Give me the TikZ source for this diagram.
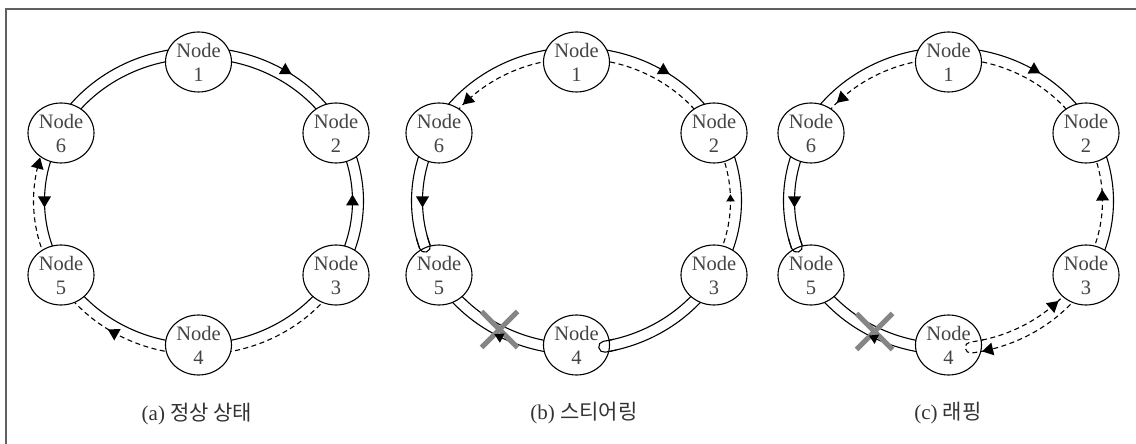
\documentclass[tikz,border=0pt]{standalone}
\usepackage{fontspec}
\setmainfont{Liberation Serif}
\newfontfamily\kr{Noto Sans CJK KR}
\usetikzlibrary{shapes.geometric}
\definecolor{txtgray}{HTML}{444444}
\definecolor{captext}{HTML}{333333}
\definecolor{xgray}{HTML}{858585}
\definecolor{framegray}{HTML}{606060}
% outer and inner ring arcs (parametric angles)
\newcommand\OA[3][ln]{\draw[#1] (0,243) ++(#2:165pt and 153.5pt) arc[start angle=#2, end angle=#3, x radius=165pt, y radius=153.5pt];}
\newcommand\IA[3][ln]{\draw[#1] (0,243) ++(#2:154pt and 142.5pt) arc[start angle=#2, end angle=#3, x radius=154pt, y radius=142.5pt];}
% arrow triangle on the ring
\newcommand\arw[5][1]{%
  \pgfmathsetmacro\ang{atan2(#3*cos(#4), -#2*sin(#4))+#5}%
  \fill[shift={({#2*cos(#4)},{243+#3*sin(#4)})}, rotate=\ang, scale=#1] (6.5,0) -- (-4.5,6.5) -- (-4.5,-6.5) -- cycle;}
\newcommand\arO[3][1]{\arw[#1]{165}{153.5}{#2}{#3}}
\newcommand\arI[3][1]{\arw[#1]{154}{142.5}{#2}{#3}}
% U-turn cap joining outer and inner line
\newcommand\ucap[4][ln]{\draw[#1] (0,243) ++(#2:165pt and 153.5pt) arc[start angle=#2, end angle=#3, x radius=165pt, y radius=153.5pt] arc[start angle=#3, delta angle=#4, radius=5.5pt] arc[start angle=#3, end angle=#2, x radius=154pt, y radius=142.5pt];}
\newcommand\xmk[2]{\draw[xmark] (#1-18,#2-18) -- (#1+18,#2+18); \draw[xmark] (#1-18,#2+18) -- (#1+18,#2-18);}
\begin{document}
\begin{tikzpicture}[x=1pt,y=1pt,
  nd/.style={ellipse, draw=black, line width=1.1pt, fill=white, minimum width=66pt, minimum height=60pt, inner sep=0pt, align=center, text=txtgray, font=\fontsize{20.5}{24}\selectfont},
  ln/.style={line width=1.1pt, line cap=butt},
  dsh/.style={line width=1.1pt, dash pattern=on 5pt off 3.5pt},
  xmark/.style={line width=5pt, draw=xgray},
  capt/.style={font=\fontsize{21}{24}\selectfont, text=captext}]
\useasboundingbox (0,0) rectangle (1136,444);
\fill[white] (0,0) rectangle (1136,444);
\draw[line width=1.5pt, framegray] (6,0) -- (6,435) -- (1136,435);

% ---------- (a) ----------
\begin{scope}[xshift=198.5pt]
\IA{151}{90} \OA{151}{90}
\IA{90}{29} \OA{90}{29}
\IA{29}{-30} \OA{29}{-30}
\IA{-30}{-90} \OA[dsh]{-30}{-90}
\IA{270}{210} \OA[dsh]{270}{210}
\IA{210}{151} \OA[dsh]{210}{151}
\node[nd] (a1) at (0,382) {Node\\1};
\node[nd] (a2) at (137.5,311) {Node\\2};
\node[nd] (a3) at (137.5,169) {Node\\3};
\node[nd] (a4) at (0,99) {Node\\4};
\node[nd] (a5) at (-137.5,169) {Node\\5};
\node[nd] (a6) at (-137.5,311) {Node\\6};
\arO{58}{180}
\arI{0}{0}
\arO{239}{180}
\arI{180}{0}
\arO{166}{180}
\end{scope}

% ---------- (b) ----------
\begin{scope}[xshift=576.5pt]
\OA{151}{90} \IA[dsh]{151}{90}
\OA{90}{29} \IA[dsh]{90}{29}
\OA{29}{-30} \IA[dsh]{29}{-30}
\OA{-30}{-80} \IA{-30}{-80}
\OA{270}{210} \IA{270}{210}
\OA{151}{198} \IA{151}{198}
\node[nd] (b1) at (0,382) {Node\\1};
\node[nd] (b2) at (137.5,311) {Node\\2};
\node[nd] (b3) at (137.5,169) {Node\\3};
\node[nd] (b4) at (0,99) {Node\\4};
\node[nd] (b5) at (-137.5,169) {Node\\5};
\node[nd] (b6) at (-137.5,311) {Node\\6};
\xmk{-77}{114.5}
\ucap{-76}{-80}{-180}
\ucap{194}{198}{180}
\arO{58}{180}
\arI[0.65]{1}{0}
\arO[0.8]{242}{180}
\arI{180}{0}
\arI{135}{0}
\end{scope}

% ---------- (c) ----------
\begin{scope}[xshift=948.5pt]
\OA{151}{90} \IA[dsh]{151}{90}
\OA{90}{29} \IA[dsh]{90}{29}
\OA{29}{-30} \IA[dsh]{29}{-30}
\OA[dsh]{-30}{-81} \IA[dsh]{-30}{-81}
\OA{270}{210} \IA{270}{210}
\OA{151}{198} \IA{151}{198}
\node[nd] (c1) at (0,382) {Node\\1};
\node[nd] (c2) at (137.5,311) {Node\\2};
\node[nd] (c3) at (137.5,169) {Node\\3};
\node[nd] (c4) at (0,99) {Node\\4};
\node[nd] (c5) at (-137.5,169) {Node\\5};
\node[nd] (c6) at (-137.5,311) {Node\\6};
\xmk{-74}{112.5}
\ucap[dsh]{-77}{-82}{-180}
\ucap{194}{198}{180}
\arO{58.5}{180}
\arI{2}{0}
\arO{-76}{180}
\arI{-47}{0}
\arO[0.8]{243}{180}
\arI{180}{0}
\arI{134}{0}
\end{scope}

\node[capt] (capa) at (197,30) {(a) {\kr 정상 상태}};
\node[capt] (capb) at (584,31) {(b) {\kr 스티어링}};
\node[capt] (capc) at (948,31) {(c) {\kr 래핑}};
\end{tikzpicture}
\end{document}
